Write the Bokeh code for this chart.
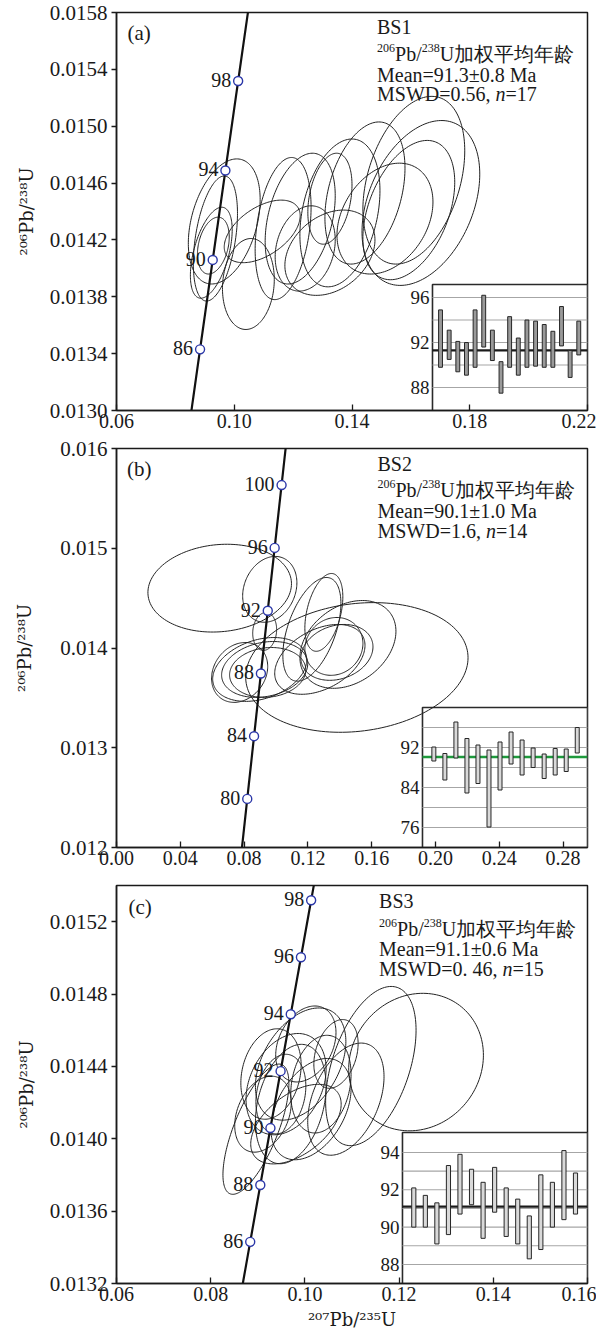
import numpy as np
from bokeh.plotting import figure
from bokeh.layouts import column
from bokeh.models import Range1d, FixedTicker, PrintfTickFormatter
from bokeh.embed import file_html
from bokeh.resources import INLINE
from bokeh.core.properties import value

# U-Pb decay constants (per year) used for the concordia curve
LAMBDA_238 = 1.55125e-10
LAMBDA_235 = 9.8485e-10

# ---------------- Panel (a) BS1 ----------------
a_ell_x = [0.0966, 0.0936, 0.0929, 0.1048, 0.0922, 0.1095, 0.1166, 0.1224, 0.1241, 0.1325, 0.1359,
           0.1325, 0.1444, 0.1512, 0.1610, 0.1634, 0.1593]
a_ell_y = [0.01433, 0.01421, 0.01416, 0.01389, 0.01411, 0.01426, 0.01428, 0.01435, 0.01414, 0.01449,
           0.01439, 0.01411, 0.01453, 0.01435, 0.01462, 0.01446, 0.01441]
a_ell_sx = [0.0122, 0.0075, 0.0054, 0.0088, 0.0071, 0.0129, 0.0095, 0.0119, 0.0102, 0.0075, 0.0136,
            0.0153, 0.0136, 0.0163, 0.0173, 0.0200, 0.0156]
a_ell_sy = [0.00044, 0.00044, 0.00020, 0.00032, 0.00032, 0.00022, 0.00050, 0.00046, 0.00030, 0.00032,
            0.00052, 0.00030, 0.00050, 0.00039, 0.00059, 0.00058, 0.00049]
a_ell_rho = [0.35, 0.4, 0.3, 0.1, 0.5, 0.5, 0.3, 0.35, 0.2, 0.3, 0.3, 0.3, 0.35, 0.3, 0.35, 0.35, 0.4]
a_ages = [86, 90, 94, 98]
a_bar_hi = [94.9, 93.1, 92.1, 92.0, 94.9, 96.2, 93.1, 90.3, 94.3, 92.4, 94.0, 93.9, 93.6, 93.0, 95.2, 91.3, 93.9]
a_bar_lo = [89.8, 90.5, 89.4, 89.1, 89.8, 91.6, 90.4, 87.5, 89.8, 89.1, 89.8, 89.9, 89.8, 89.8, 91.7, 88.9, 90.9]
a_mean = 91.3
a_xticks = [0.06, 0.10, 0.14, 0.18, 0.22]
a_yticks = [0.0130, 0.0134, 0.0138, 0.0142, 0.0146, 0.0150, 0.0154, 0.0158]
a_inset_grid = [88, 90, 92, 94, 96]
a_inset_labels = [88, 92, 96]
a_text = ["BS1", "Mean=91.3±0.8 Ma", "MSWD=0.56,", "n", "=17"]

# ---------------- Panel (b) BS2 ----------------
b_ell_x = [0.0647, 0.0961, 0.0929, 0.0898, 0.0929, 0.0948, 0.1300, 0.1507, 0.1451, 0.1382, 0.1363,
           0.1225, 0.1275, 0.0772]
b_ell_y = [0.014600, 0.014588, 0.014166, 0.013785, 0.013785, 0.013755, 0.014357, 0.013805, 0.014036,
           0.013956, 0.014016, 0.014187, 0.013886, 0.013755]
b_ell_sx = [0.0450, 0.0170, 0.0075, 0.0295, 0.0270, 0.0239, 0.0119, 0.0697, 0.0301, 0.0226, 0.0182,
            0.0182, 0.0283, 0.0176]
b_ell_sy = [0.00044, 0.00033, 0.00019, 0.00032, 0.00028, 0.00025, 0.00039, 0.00065, 0.00044, 0.00028,
            0.00029, 0.00052, 0.00035, 0.00030]
b_ell_rho = [0.1, 0.2, 0.1, 0.3, 0.2, 0.1, 0.4, 0.15, 0.3, 0.2, 0.1, 0.5, 0.4, 0.2]
b_ages = [80, 84, 88, 92, 96, 100]
b_bar_hi = [92.1, 90.8, 97.1, 93.8, 92.5, 91.5, 93.1, 95.1, 93.5, 91.9, 90.7, 91.8, 91.7, 96.0]
b_bar_lo = [89.3, 85.5, 89.9, 82.9, 84.8, 76.1, 83.5, 88.7, 86.5, 88.0, 85.8, 86.5, 87.2, 90.9]
b_mean = 90.1
b_xticks = [0.00, 0.04, 0.08, 0.12, 0.16, 0.20, 0.24, 0.28]
b_yticks = [0.012, 0.013, 0.014, 0.015, 0.016]
b_inset_grid = [76, 80, 84, 88, 92, 96]
b_inset_labels = [76, 84, 92]
b_text = ["BS2", "Mean=90.1±1.0 Ma", "MSWD=1.6,", "n", "=14"]

# ---------------- Panel (c) BS3 ----------------
c_ell_x = [0.1236, 0.1140, 0.1087, 0.1066, 0.0991, 0.0960, 0.0970, 0.0949, 0.0896, 0.1013, 0.0928,
           0.1034, 0.0981, 0.0911, 0.1002]
c_ell_y = [0.014424, 0.014402, 0.014219, 0.014469, 0.014413, 0.014302, 0.014192, 0.014247, 0.014053,
           0.014164, 0.014358, 0.014302, 0.014081, 0.014136, 0.014524]
c_ell_sx = [0.0143, 0.0096, 0.0081, 0.0047, 0.0096, 0.0085, 0.0075, 0.0053, 0.0070, 0.0085, 0.0064,
            0.0064, 0.0096, 0.0060, 0.0064]
c_ell_sy = [0.00038, 0.00044, 0.00031, 0.00019, 0.00031, 0.00028, 0.00033, 0.00022, 0.00036, 0.00028,
            0.00025, 0.00027, 0.00022, 0.00021, 0.00021]
c_ell_rho = [0.1, 0.45, 0.4, 0.3, 0.4, 0.3, 0.3, 0.2, 0.7, 0.4, 0.2, 0.2, 0.5, 0.3, 0.3]
c_ages = [86, 88, 90, 92, 94, 96, 98]
c_bar_hi = [92.1, 91.7, 91.3, 93.3, 93.9, 93.1, 92.4, 93.2, 92.1, 91.5, 90.6, 92.8, 92.4, 94.1, 92.9]
c_bar_lo = [90.0, 90.0, 89.1, 89.6, 90.7, 91.2, 89.4, 90.8, 89.5, 89.1, 88.3, 88.8, 90.0, 90.4, 90.7]
c_mean = 91.1
c_xticks = [0.06, 0.08, 0.10, 0.12, 0.14, 0.16]
c_yticks = [0.0132, 0.0136, 0.0140, 0.0144, 0.0148, 0.0152]
c_inset_grid = [88, 89, 90, 91, 92, 93, 94]
c_inset_labels = [88, 90, 92, 94]
c_text = ["BS3", "Mean=91.1±0.6 Ma", "MSWD=0. 46,", "n", "=15"]

# header line pieces: superscript mass numbers and element symbols
iso_parts = ["206", "Pb/", "238", "U加权平均年龄"]

Y_LABEL = "²⁰⁶Pb/²³⁸U"
X_LABEL = "²⁰⁷Pb/²³⁵U"

SERIF = "Liberation Serif"
AXLAB_FONT = "DejaVu Serif"
INK = "#1a1a1a"


def concordia(ages_ma):
    t = np.asarray(ages_ma, dtype=float) * 1e6
    return np.expm1(LAMBDA_235 * t), np.expm1(LAMBDA_238 * t)


def ellipse_paths(cx, cy, sx, sy, rho, n=160):
    th = np.linspace(0, 2 * np.pi, n)
    xs, ys = [], []
    for x0, y0, a, b, r in zip(cx, cy, sx, sy, rho):
        xs.append(list(x0 + a * np.cos(th)))
        ys.append(list(y0 + b * (r * np.cos(th) + np.sqrt(1 - r * r) * np.sin(th))))
    return xs, ys


def txt(p, x, y, s, **kw):
    opts = dict(text_align="left", text_baseline="middle", text_font=value(SERIF),
                text_font_size="20px", text_color=INK)
    opts.update(kw)
    p.text(x=[x], y=[y], text=[s], **opts)


def make_panel(s):
    p = figure(width=596, height=s["height"], x_range=Range1d(*s["xr"]), y_range=Range1d(*s["yr"]),
               output_backend="svg", toolbar_location=None,
               min_border_left=116, min_border_right=9,
               min_border_top=s["bt"], min_border_bottom=s["bb"])
    p.extra_x_ranges = {"ix": Range1d(*s["ixr"])}
    p.extra_y_ranges = {"iy": Range1d(*s["iyr"])}
    p.grid.visible = False
    p.outline_line_color = INK
    p.outline_line_width = 1.5
    p.background_fill_color = "white"
    p.border_fill_color = "white"

    xa = p.xaxis[0]
    xa.ticker = FixedTicker(ticks=s["xticks"])
    xa.formatter = PrintfTickFormatter(format="%.2f")
    xa.major_tick_in = 6
    xa.major_tick_out = 0
    xa.minor_tick_line_color = None
    xa.major_tick_line_color = INK
    xa.major_tick_line_width = 1.3
    xa.axis_line_color = INK
    xa.axis_line_width = 1.5
    xa.major_label_text_font = SERIF
    xa.major_label_text_font_size = "20px"
    xa.major_label_text_color = INK
    xa.major_label_standoff = 3
    if s.get("xlabel"):
        xa.axis_label = s["xlabel"]
        xa.axis_label_text_font = AXLAB_FONT
        xa.axis_label_text_font_size = "18px"
        xa.axis_label_text_font_style = "normal"
        xa.axis_label_text_color = INK
        xa.axis_label_standoff = 5

    ya = p.yaxis[0]
    ya.ticker = FixedTicker(ticks=s["yticks"])
    ya.formatter = PrintfTickFormatter(format=s["yfmt"])
    ya.major_tick_in = 0
    ya.major_tick_out = 5
    ya.minor_tick_line_color = None
    ya.major_tick_line_color = INK
    ya.major_tick_line_width = 1.3
    ya.axis_line_color = INK
    ya.axis_line_width = 1.5
    ya.major_label_text_font = SERIF
    ya.major_label_text_font_size = "21px"
    ya.major_label_text_color = INK
    ya.major_label_standoff = 4
    ya.axis_label = Y_LABEL
    ya.axis_label_text_font = AXLAB_FONT
    ya.axis_label_text_font_size = "18px"
    ya.axis_label_text_font_style = "normal"
    ya.axis_label_text_color = INK
    ya.axis_label_standoff = s["ylab_standoff"]

    # ---- inset: weighted mean age plot ----
    bl, br, bb, bt = s["box"]
    ik = dict(x_range_name="ix", y_range_name="iy")
    p.quad(left=[bl], right=[br], bottom=[bb], top=[bt], fill_color="white",
           line_color="#2a2a2a", line_width=1.6, **ik)
    g = s["grid"]
    p.segment(x0=[bl] * len(g), x1=[br] * len(g), y0=g, y1=g, line_color="#a6a6a6", line_width=1.1, **ik)
    p.segment(x0=[bl], x1=[br], y0=[s["mean"]], y1=[s["mean"]], line_color=s["mean_color"],
              line_width=s["mean_width"], **ik)
    hi, lo = s["hi"], s["lo"]
    idx = np.arange(1, len(hi) + 1)
    w = s["bar_w"]
    p.quad(left=idx - w / 2, right=idx + w / 2, bottom=lo, top=hi, fill_color=s["bar_fill"],
           line_color="#262626", line_width=1, **ik)
    labs = s["labels"]
    p.text(x=[bl] * len(labs), y=labs, text=[str(v) for v in labs], x_offset=-3,
           text_align="right", text_baseline="middle", text_font=value(SERIF),
           text_font_size="19px", text_color=INK, **ik)

    # ---- analysis ellipses ----
    xs, ys = ellipse_paths(*s["ell"])
    p.multi_line(xs=xs, ys=ys, line_color="#222222", line_width=1.0)

    # ---- concordia ----
    t = np.linspace(60, 115, 300)
    cx, cy = concordia(t)
    p.line(cx, cy, line_color="#111111", line_width=2.2)
    mx, my = concordia(s["ages"])
    p.text(x=mx, y=my, text=[str(a) for a in s["ages"]], x_offset=-7, y_offset=-1,
           text_align="right", text_baseline="middle", text_font=value(SERIF),
           text_font_size="20px", text_color=INK)
    p.scatter(mx, my, marker="circle", size=9, fill_color="white", line_color="#2b37a8", line_width=1.4)

    # ---- annotation texts ----
    tx, tys = s["tpos"]
    t_ = s["text"]
    txt(p, tx, tys[0], t_[0])
    # isotope header line with superscripts
    txt(p, tx, tys[1], iso_parts[0], text_font_size="12px", y_offset=-6)
    txt(p, tx, tys[1], iso_parts[1], x_offset=18)
    txt(p, tx, tys[1], iso_parts[2], text_font_size="12px", y_offset=-6, x_offset=44.7)
    txt(p, tx, tys[1], iso_parts[3], x_offset=62.7)
    txt(p, tx, tys[2], t_[1])
    txt(p, tx, tys[3], t_[2])
    txt(p, tx, tys[3], t_[3], x_offset=s["n_off"], text_font_style="italic")
    txt(p, tx, tys[3], t_[4], x_offset=s["n_off"] + 10)
    px_, py_ = s["ppos"]
    txt(p, px_, py_, s["plabel"], text_font_size="21px")
    return p


pa = make_panel(dict(
    height=436, bt=12, bb=26, xr=(0.06, 0.22), yr=(0.0130, 0.0158), xticks=a_xticks, yticks=a_yticks,
    yfmt="%.4f", ylab_standoff=10, ixr=(-36.5, 18.01), iyr=(85.96, 121.33), box=(0.07, 18.01, 85.96, 97.16),
    grid=a_inset_grid, labels=a_inset_labels, mean=a_mean, mean_color="#1a1a1a", mean_width=2.2,
    hi=a_bar_hi, lo=a_bar_lo, bar_w=0.45, bar_fill="#9a9a9a",
    ell=(a_ell_x, a_ell_y, a_ell_sx, a_ell_sy, a_ell_rho), ages=a_ages,
    tpos=(0.1485, [0.015697, 0.015507, 0.015359, 0.015225]), text=a_text, n_off=118.5,
    ppos=(0.0637, 0.015655), plabel="(a)"))

pb = make_panel(dict(
    height=437, bt=12, bb=26, xr=(0.0, 0.2953), yr=(0.012, 0.016), xticks=b_xticks, yticks=b_yticks,
    yfmt="%.3f", ylab_standoff=22, ixr=(-27.77, 14.93), iyr=(72.0, 151.8), box=(-0.03, 14.93, 72.0, 100.0),
    grid=b_inset_grid, labels=b_inset_labels, mean=b_mean, mean_color="#1e9a3c", mean_width=2.6,
    hi=b_bar_hi, lo=b_bar_lo, bar_w=0.36, bar_fill="#d9d9d9",
    ell=(b_ell_x, b_ell_y, b_ell_sx, b_ell_sy, b_ell_rho), ages=b_ages,
    tpos=(0.1636, [0.015842, 0.015581, 0.015370, 0.015169]), text=b_text, n_off=108.5,
    ppos=(0.0066, 0.015791), plabel="(b)"))

pc = make_panel(dict(
    height=464, bt=12, bb=54, xr=(0.06, 0.16), yr=(0.0132, 0.0154), xticks=c_xticks, yticks=c_yticks,
    yfmt="%.4f", ylab_standoff=10, ixr=(-24.74, 16.04), iyr=(86.98, 108.3), box=(0.02, 16.04, 86.98, 95.07),
    grid=c_inset_grid, labels=c_inset_labels, mean=c_mean, mean_color="#1a1a1a", mean_width=2.2,
    hi=c_bar_hi, lo=c_bar_lo, bar_w=0.36, bar_fill="#d9d9d9",
    ell=(c_ell_x, c_ell_y, c_ell_sx, c_ell_sy, c_ell_rho), ages=c_ages,
    tpos=(0.11574, [0.015316, 0.015161, 0.015050, 0.014940]), text=c_text, n_off=123.5,
    ppos=(0.06255, 0.015283), plabel="(c)", xlabel=X_LABEL))

layout = column(pa, pb, pc, spacing=0)
open("out.html", "w").write(file_html(layout, INLINE))
